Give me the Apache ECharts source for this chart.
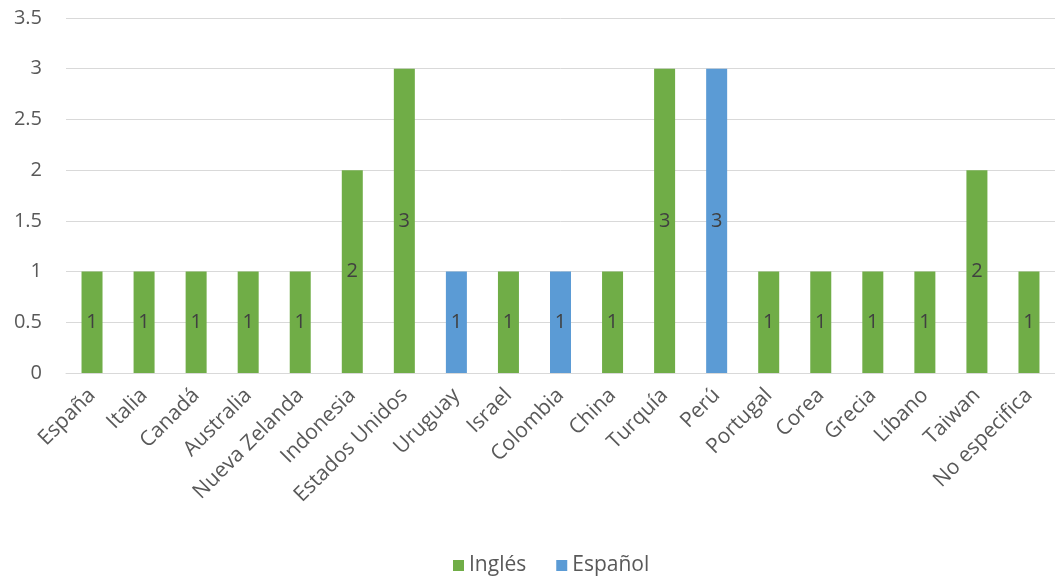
<!DOCTYPE html>
<html>
<head>
<meta charset="utf-8">
<script src="https://cdn.jsdelivr.net/npm/echarts@6/dist/echarts.min.js"></script>
<style>
  html, body { margin: 0; padding: 0; background: #ffffff; }
  #chart { width: 1055px; height: 578px; }
</style>
</head>
<body>
<div id="chart"></div>
<script>
// Countries of origin, split by language of publication
const categories = ['España', 'Italia', 'Canadá', 'Australia', 'Nueva Zelanda', 'Indonesia',
  'Estados Unidos', 'Uruguay', 'Israel', 'Colombia', 'China', 'Turquía', 'Perú', 'Portugal',
  'Corea', 'Grecia', 'Líbano', 'Taiwan', 'No especifica'];
const ingles  = [1, 1, 1, 1, 1, 2, 3, null, 1, null, 1, 3, null, 1, 1, 1, 1, 2, 1];
const espanol = [null, null, null, null, null, null, null, 1, null, 1, null, null, 3, null, null, null, null, null, null];
const yTicks = { min: 0, max: 3.5, interval: 0.5 };

const font = 'Open Sans, Liberation Sans, sans-serif';
const labelStyle = {
  show: true,
  position: 'inside',
  color: '#404040',
  fontSize: 20,
  fontFamily: font
};

const chart = echarts.init(document.getElementById('chart'), null, { renderer: 'canvas' });
chart.setOption({
  animation: false,
  backgroundColor: '#ffffff',
  grid: { left: 66, top: 18, width: 998, height: 355, containLabel: false },
  legend: {
    top: 550,
    left: 448,
    itemWidth: 11,
    itemHeight: 11,
    itemGap: 30,
    icon: 'rect',
    textStyle: { color: '#595959', fontSize: 21, fontFamily: font },
    data: ['Inglés', 'Español']
  },
  xAxis: {
    type: 'category',
    data: categories,
    axisLine: { show: true, lineStyle: { color: '#d9d9d9', width: 1 } },
    axisTick: { show: false },
    axisLabel: {
      interval: 0,
      rotate: 45,
      margin: 19,
      color: '#595959',
      fontSize: 21,
      fontFamily: font
    }
  },
  yAxis: {
    type: 'value',
    min: yTicks.min,
    max: yTicks.max,
    interval: yTicks.interval,
    axisLine: { show: false },
    axisTick: { show: false },
    splitLine: { lineStyle: { color: '#d9d9d9', width: 1 } },
    axisLabel: {
      color: '#595959',
      fontSize: 20,
      fontFamily: font,
      margin: 24
    }
  },
  series: [
    {
      name: 'Inglés',
      type: 'bar',
      stack: 'total',
      barWidth: 21,
      data: ingles,
      itemStyle: { color: '#70ad47' },
      label: labelStyle
    },
    {
      name: 'Español',
      type: 'bar',
      stack: 'total',
      barWidth: 21,
      data: espanol,
      itemStyle: { color: '#5b9bd5' },
      label: labelStyle
    }
  ]
});
</script>
</body>
</html>
